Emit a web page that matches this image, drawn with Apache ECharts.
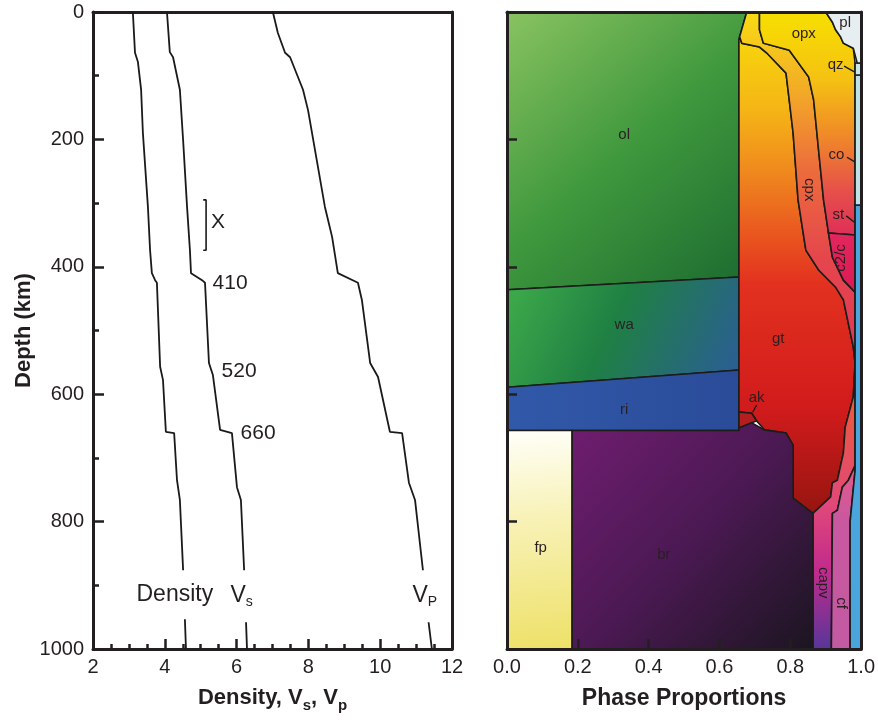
<!DOCTYPE html>
<html>
<head>
<meta charset="utf-8">
<script src="https://cdn.jsdelivr.net/npm/echarts@6/dist/echarts.min.js"></script>
<style>
  html, body { margin: 0; padding: 0; background: #fff; }
  #main { width: 878px; height: 720px; }
</style>
</head>
<body>
<div id="main"></div>
<script>
var FONT = "'Liberation Sans', Arial, Helvetica, sans-serif";
var INK = '#231f20';

// seismic profiles: [value, depth km]
var density = [[3.11,0],[3.17,64],[3.25,78],[3.34,122],[3.39,190],[3.53,306],[3.59,374],[3.64,410],[3.73,421],[3.78,425],[3.87,557],[3.95,578],[4.03,659],[4.26,661],[4.34,735],[4.42,766],[4.51,876],[4.59,1000]];
var vs = [[4.06,0],[4.14,63],[4.23,71],[4.42,122],[4.51,201],[4.62,306],[4.70,374],[4.73,410],[5.06,422],[5.12,425],[5.23,551],[5.34,570],[5.54,656],[5.87,661],[6.01,746],[6.12,766],[6.21,876],[6.29,1000]];
var vp = [[7.01,0],[7.15,33],[7.35,64],[7.49,71],[7.85,122],[7.99,154],[8.46,306],[8.66,353],[8.82,410],[9.38,425],[9.49,452],[9.72,551],[9.94,573],[10.27,659],[10.61,661],[10.80,739],[10.97,766],[11.19,876],[11.33,950],[11.44,1000]];
var bracket = [[5.07,295],[5.15,295],[5.15,374],[5.07,374]];

// profile annotations: [text, value, depth]
var profileLabels = [
  ['Density', 4.28, 915], ['Vs', 6.14, 917], ['VP', 11.24, 917],
  ['410', 5.82, 425], ['520', 6.07, 564], ['660', 6.60, 662], ['X', 5.48, 330]
];

// phase boundaries: [proportion, depth km]
var line1 = [[0.677,0],[0.657,39],[0.663,49],[0.713,55],[0.733,64],[0.788,96],[0.797,138],[0.808,190],[0.822,295],[0.844,374],[0.880,405],[0.928,432],[0.950,452],[0.978,526],[0.983,551],[0.978,604],[0.955,652],[0.950,692],[0.933,735],[0.919,739],[0.914,761],[0.864,787]];
var line2 = [[0.713,0],[0.713,28],[0.724,49],[0.797,60],[0.852,102],[0.866,138],[0.880,217],[0.894,295],[0.908,347],[0.919,385],[0.950,421],[0.983,440]];
var plEdge = [[0.900,0],[0.919,16],[0.928,28],[0.942,39],[0.950,49],[0.978,57],[0.989,80]];
var cfLeft = [[0.916,1000],[0.919,787],[0.933,782],[0.947,746],[0.964,735],[0.983,712]];
var gtLower = [[0.655,44],[0.655,628],[0.691,630],[0.705,642],[0.727,656],[0.788,661],[0.808,680],[0.808,763]];
var brTop = [[0.184,657],[0.655,657],[0.655,653],[0.691,645],[0.727,656],[0.788,661],[0.808,680],[0.808,763],[0.864,787]];

var polys = {
  ol: [[0,0],[0.677,0],[0.657,39],[0.655,44],[0.655,416],[0,436]],
  wa: [[0,436],[0.655,416],[0.655,562],[0,589]],
  ri: [[0,589],[0.655,562],[0.655,657],[0,657]],
  fp: [[0,657],[0.184,657],[0.184,1000],[0,1000]],
  gt: gtLower.concat(line1.slice(1).reverse()),
  cpx: line1.slice(0, 15).concat(line2.slice().reverse()),
  opx: line2.slice(0, 9).concat([[0.983,350],[0.983,80]], plEdge.slice(0, 6).reverse()),
  c2c: [[0.908,347],[0.983,350]].concat(line2.slice(9).reverse()),
  capv: line1.slice(14).concat([[0.864,1000]], cfLeft),
  cf: cfLeft.concat([[0.983,720],[0.969,800],[0.969,1000]]),
  st: [[0.983,303],[1,303],[1,1000],[0.969,1000],[0.969,800],[0.983,720]],
  co: [[0.983,99],[1,99],[1,303],[0.983,303]],
  qz: [[0.983,80],[1,80],[1,99],[0.983,99]],
  pl: plEdge.concat([[1,80],[1,0]]),
  ak: [[0.655,628],[0.691,630],[0.705,642],[0.691,645],[0.655,653]],
  br: brTop.concat([[0.864,1000],[0.184,1000]])
};
var drawOrder = ['ol','wa','ri','fp','gt','cpx','opx','c2c','capv','cf','st','co','qz','pl','ak','br'];

// phase labels: [text, proportion, depth, rotation deg]
var phaseLabels = [
  ['ol',0.331,193,0],['wa',0.331,491,0],['ri',0.331,625,0],['fp',0.095,841,0],['br',0.443,852,0],
  ['gt',0.766,513,0],['opx',0.838,35,0],['pl',0.955,17,0],['qz',0.928,83,0],['co',0.930,224,0],
  ['st',0.936,319,0],['ak',0.705,606,0],['cpx',0.852,279,-90],['c2/c',0.942,386,90],
  ['capv',0.894,896,-90],['cf',0.944,928,-90]
];
var leaders = [
  [[0.952,85],[0.981,94]],
  [[0.960,228],[0.981,235]],
  [[0.958,320],[0.981,330]],
  [[0.705,617],[0.694,628]]
];

function lg(x2, y2, stops) {
  return { type: 'linear', x: 0, y: 0, x2: x2, y2: y2,
    colorStops: stops.map(function (s) { return { offset: s[0], color: s[1] }; }) };
}
var fills = {
  ol: lg(1, 1, [[0,'#8ac361'],[0.5,'#3f983d'],[1,'#1b6a30']]),
  wa: lg(1, 1, [[0,'#40ad4b'],[0.45,'#1f8043'],[1,'#2b5b9a']]),
  ri: lg(1, 0, [[0,'#3159a9'],[1,'#2a4b98']]),
  fp: lg(0.3, 1, [[0,'#fffffa'],[0.4,'#f8f2b8'],[1,'#eee16a']]),
  gt: lg(0, 1, [[0,'#f7d60c'],[0.15,'#f5b616'],[0.28,'#f08a1e'],[0.4,'#ea5c1f'],[0.52,'#e2311f'],[0.78,'#d11b1c'],[1,'#961510']]),
  cpx: lg(0, 1, [[0,'#f8dc14'],[0.22,'#f3ac26'],[0.45,'#ec6c3c'],[0.7,'#e5464c'],[1,'#e03658']]),
  opx: lg(0, 1, [[0,'#f7e000'],[0.3,'#f5c212'],[0.55,'#f08a28'],[0.8,'#e6504a'],[1,'#df2e58']]),
  c2c: lg(0, 1, [[0,'#e2265e'],[1,'#dc1a52']]),
  capv: lg(0, 1, [[0,'#ef6a2c'],[0.15,'#ec5940'],[0.5,'#e0487a'],[0.72,'#c22b8c'],[1,'#573698']]),
  cf: lg(0, 1, [[0,'#e45a88'],[0.3,'#c9589f'],[1,'#c25aa2']]),
  st: '#4ba5dd',
  co: '#bde1e5',
  qz: '#c9e6ea',
  pl: '#e7eef2',
  ak: '#b41e1e',
  br: lg(1, 1, [[0,'#701d70'],[0.5,'#4b1953'],[1,'#1b1520']])
};

var myChart = echarts.init(document.getElementById('main'));

var frameAxis = function (grid, pos, min, max, z) {
  return {
    gridIndex: grid, type: 'value', position: pos, min: min, max: max, z: z,
    axisLine: { show: true, onZero: false, lineStyle: { color: INK, width: 3 } },
    axisTick: { show: false }, axisLabel: { show: false }, splitLine: { show: false }
  };
};

var subRich = {
  v: { fontSize: 23, lineHeight: 26, fill: INK, fontFamily: FONT },
  s: { fontSize: 14, lineHeight: 26, verticalAlign: 'bottom', fill: INK, fontFamily: FONT }
};

function profileText(d) {
  if (d[0] === 'Vs') return { text: '{v|V}{s|s}', big: true };
  if (d[0] === 'VP') return { text: '{v|V}{s|P}', big: true };
  return { text: d[0], big: d[0] === 'Density' };
}

var option = {
  animation: false,
  textStyle: { fontFamily: FONT },
  grid: [
    { left: 93, top: 12, width: 359, height: 637 },
    { left: 507, top: 12, width: 359, height: 637 }
  ],
  xAxis: [
    {
      gridIndex: 0, type: 'value', min: 2, max: 12, interval: 2, position: 'bottom',
      axisLine: { onZero: false, lineStyle: { color: INK, width: 3 } },
      axisTick: { inside: true, length: 10, lineStyle: { color: INK, width: 2.5 } },
      minorTick: { show: true, splitNumber: 4, length: 5, lineStyle: { color: INK, width: 2.5 } },
      splitLine: { show: false },
      axisLabel: { fontSize: 20, color: INK, margin: 8, fontFamily: FONT },
      name: '{b|Density, V}{sub|s}{b|, V}{sub|p}', nameLocation: 'middle', nameGap: 34,
      nameTextStyle: {
        rich: {
          b: { fontSize: 22, fontWeight: 'bold', color: INK, fontFamily: FONT, lineHeight: 30 },
          sub: { fontSize: 15, fontWeight: 'bold', color: INK, fontFamily: FONT, lineHeight: 30, verticalAlign: 'bottom' }
        }
      }
    },
    frameAxis(0, 'top', 2, 12, 0),
    {
      gridIndex: 1, type: 'value', min: 0, max: 1, interval: 0.2, position: 'bottom', z: 10,
      axisLine: { onZero: false, lineStyle: { color: INK, width: 3 } },
      axisTick: { inside: true, length: 10, lineStyle: { color: INK, width: 2.5 } },
      splitLine: { show: false },
      axisLabel: { fontSize: 20, color: INK, margin: 8, fontFamily: FONT,
        formatter: function (v) { return v.toFixed(1); } },
      name: 'Phase Proportions', nameLocation: 'middle', nameGap: 38,
      nameTextStyle: { fontSize: 23, fontWeight: 'bold', color: INK, fontFamily: FONT }
    },
    frameAxis(1, 'top', 0, 1, 10)
  ],
  yAxis: [
    {
      gridIndex: 0, type: 'value', min: 0, max: 1000, interval: 200, inverse: true,
      axisLine: { onZero: false, lineStyle: { color: INK, width: 3 } },
      axisTick: { inside: true, length: 11, lineStyle: { color: INK, width: 2.5 } },
      minorTick: { show: true, splitNumber: 2, length: 6, lineStyle: { color: INK, width: 2.5 } },
      splitLine: { show: false },
      axisLabel: { fontSize: 20, color: INK, margin: 9, fontFamily: FONT,
        formatter: function (v) { return String(v); } },
      name: 'Depth (km)', nameLocation: 'middle', nameGap: 58,
      nameTextStyle: { fontSize: 22, fontWeight: 'bold', color: INK, fontFamily: FONT }
    },
    frameAxis(0, 'right', 0, 1000, 0),
    {
      gridIndex: 1, type: 'value', min: 0, max: 1000, interval: 200, inverse: true, z: 10,
      axisLine: { onZero: false, lineStyle: { color: INK, width: 3 } },
      axisTick: { inside: true, length: 10, lineStyle: { color: INK, width: 2.5 } },
      splitLine: { show: false }, axisLabel: { show: false }
    },
    frameAxis(1, 'right', 0, 1000, 10)
  ],
  series: [
    { type: 'line', name: 'Density', xAxisIndex: 0, yAxisIndex: 0, data: density,
      showSymbol: false, lineStyle: { color: '#1a1a1a', width: 1.8 } },
    { type: 'line', name: 'Vs', xAxisIndex: 0, yAxisIndex: 0, data: vs,
      showSymbol: false, lineStyle: { color: '#1a1a1a', width: 1.8 } },
    { type: 'line', name: 'Vp', xAxisIndex: 0, yAxisIndex: 0, data: vp,
      showSymbol: false, lineStyle: { color: '#1a1a1a', width: 1.8 } },
    { type: 'line', name: 'bracket', xAxisIndex: 0, yAxisIndex: 0, data: bracket,
      showSymbol: false, lineStyle: { color: '#1a1a1a', width: 1.6 } },
    {
      // profile annotations
      type: 'custom', xAxisIndex: 0, yAxisIndex: 0, z: 5, clip: false,
      data: profileLabels.map(function (d) { return [d[1], d[2]]; }),
      renderItem: function (params, api) {
        var d = profileLabels[params.dataIndex];
        var t = profileText(d);
        var pt = api.coord([d[1], d[2]]);
        var style = { text: t.text, fill: INK, fontSize: 21, fontFamily: FONT,
          align: 'center', verticalAlign: 'middle', rich: subRich };
        if (t.big) {
          style.fontSize = 23;
          style.backgroundColor = '#fff';
          style.padding = [13, 3];
        }
        return { type: 'text', x: pt[0], y: pt[1], style: style };
      }
    },
    {
      type: 'custom', xAxisIndex: 2, yAxisIndex: 2, clip: true, z: 2,
      data: drawOrder.map(function (n, i) { return [i]; }),
      renderItem: function (params, api) {
        var key = drawOrder[params.dataIndex];
        return {
          type: 'polygon',
          shape: { points: polys[key].map(function (p) { return api.coord(p); }) },
          style: { fill: fills[key], stroke: '#1c1c1a', lineWidth: 1.6 }
        };
      }
    },
    {
      type: 'custom', xAxisIndex: 2, yAxisIndex: 2, z: 3,
      data: leaders.map(function (l, i) { return [i]; }),
      renderItem: function (params, api) {
        return {
          type: 'polyline',
          shape: { points: leaders[params.dataIndex].map(function (p) { return api.coord(p); }) },
          style: { stroke: '#1c1c1a', lineWidth: 1.4, fill: null }
        };
      }
    },
    {
      // phase names
      type: 'custom', xAxisIndex: 2, yAxisIndex: 2, z: 4,
      data: phaseLabels.map(function (d) { return [d[1], d[2]]; }),
      renderItem: function (params, api) {
        var d = phaseLabels[params.dataIndex];
        var pt = api.coord([d[1], d[2]]);
        return {
          type: 'text', x: pt[0], y: pt[1], rotation: d[3] * Math.PI / 180,
          style: { text: d[0], fill: '#2a1f22', fontSize: 15, fontFamily: FONT,
            align: 'center', verticalAlign: 'middle' }
        };
      }
    }
  ]
};
myChart.setOption(option);
</script>
</body>
</html>
